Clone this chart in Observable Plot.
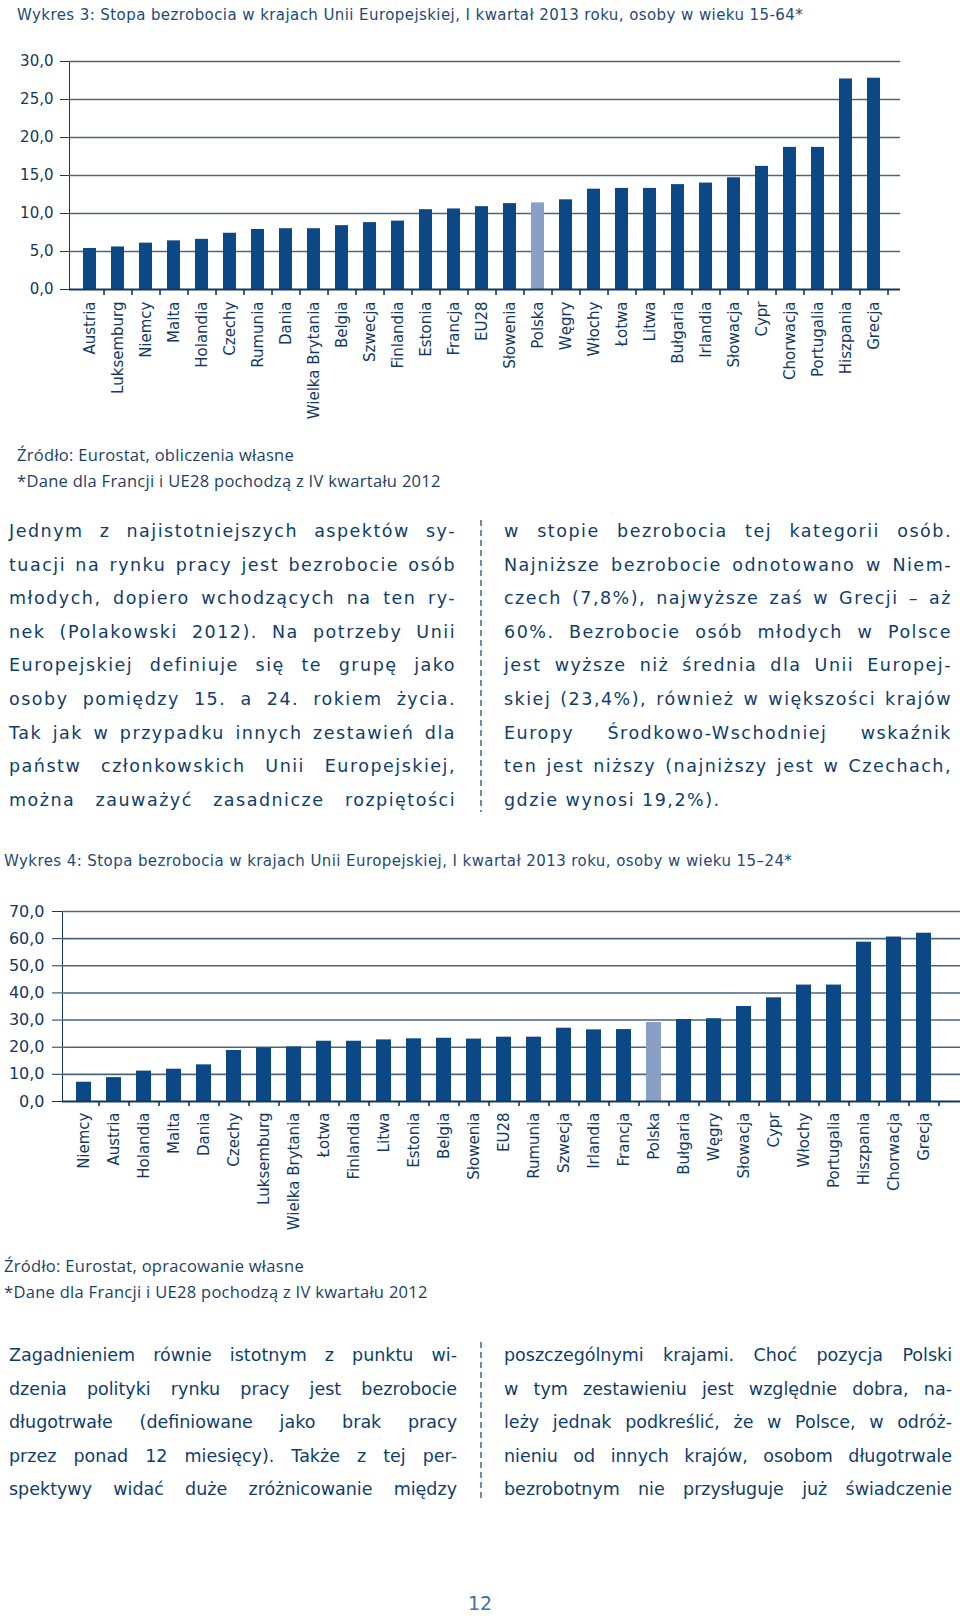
<!DOCTYPE html>
<html><head><meta charset="utf-8">
<script src="https://cdn.jsdelivr.net/npm/d3@7"></script>
<script src="https://cdn.jsdelivr.net/npm/@observablehq/plot@0.6"></script>
<style>
html,body{margin:0;padding:0;background:#fff}
body{width:960px;height:1621px;position:relative;overflow:hidden;font-family:"DejaVu Sans",sans-serif;color:#0f3d6b}
.abs{position:absolute}
.title{font-size:15px;line-height:20px;color:#1d4a78;white-space:nowrap;letter-spacing:0.42px}
.src{font-size:16.5px;line-height:20px;color:#1b3f66;white-space:nowrap;font-family:"Open Sans",sans-serif;letter-spacing:0.3px}
.col{position:absolute}
.line{white-space:nowrap;text-align:justify;text-align-last:justify}
.top .line{font-size:17.5px;height:33.6px;line-height:33.6px;letter-spacing:1.5px}
.bot .line{font-size:17.5px;height:33.5px;line-height:33.5px;letter-spacing:0px}
.line.last{text-align-last:left}
.sep{position:absolute;width:1.5px;background:repeating-linear-gradient(to bottom,#6f8aa6 0 6px,transparent 6px 10px)}
.chart{position:absolute;left:0}
</style>
</head><body>
<div id="c1" class="chart" style="top:0"></div>
<div id="c2" class="chart" style="top:880px"></div>
<div class="abs title" style="left:17px;top:5px">Wykres 3: Stopa bezrobocia w krajach Unii Europejskiej, I kwartał 2013 roku, osoby w wieku 15-64*</div>
<div class="abs src" style="left:17px;top:445px">Źródło: Eurostat, obliczenia własne</div>
<div class="abs src" style="left:17px;top:471px">*Dane dla Francji i UE28 pochodzą z IV kwartału 2012</div>
<div class="abs title" style="left:4px;top:851px">Wykres 4: Stopa bezrobocia w krajach Unii Europejskiej, I kwartał 2013 roku, osoby w wieku 15–24*</div>
<div class="abs src" style="left:4px;top:1256px">Źródło: Eurostat, opracowanie własne</div>
<div class="abs src" style="left:4px;top:1282px">*Dane dla Francji i UE28 pochodzą z IV kwartału 2012</div>
<div id="tl" class="col top" style="left:9px;top:515px;width:447px"></div>
<div id="tr" class="col top" style="left:504px;top:515px;width:448px"></div>
<div class="sep" style="left:480px;top:520px;height:292px"></div>
<div id="bl" class="col bot" style="left:9px;top:1339px;width:448px"></div>
<div id="br" class="col bot" style="left:504px;top:1339px;width:448px"></div>
<div class="sep" style="left:480px;top:1342px;height:158px"></div>
<div class="abs" style="left:0;width:960px;top:1592px;text-align:center;font-size:19px;color:#3f70a3">12</div>
<script>
// ---- Data: Wykres 3 (15-64) ----
const countries1 = ["Austria","Luksemburg","Niemcy","Malta","Holandia","Czechy","Rumunia","Dania","Wielka Brytania","Belgia","Szwecja","Finlandia","Estonia","Francja","EU28","Słowenia","Polska","Węgry","Włochy","Łotwa","Litwa","Bułgaria","Irlandia","Słowacja","Cypr","Chorwacja","Portugalia","Hiszpania","Grecja"];
const values1 = [5.4,5.6,6.1,6.4,6.6,7.4,7.9,8.0,8.0,8.4,8.8,9.0,10.5,10.6,10.9,11.3,11.4,11.8,13.2,13.3,13.3,13.8,14.0,14.7,16.2,18.7,18.7,27.7,27.8];
const yTicks1 = [0,5,10,15,20,25,30];

// ---- Data: Wykres 4 (15-24) ----
const countries2 = ["Niemcy","Austria","Holandia","Malta","Dania","Czechy","Luksemburg","Wielka Brytania","Łotwa","Finlandia","Litwa","Estonia","Belgia","Słowenia","EU28","Rumunia","Szwecja","Irlandia","Francja","Polska","Bułgaria","Węgry","Słowacja","Cypr","Włochy","Portugalia","Hiszpania","Chorwacja","Grecja"];
const values2 = [7.1,8.8,11.2,11.9,13.5,18.8,19.7,20.1,22.2,22.2,22.7,23.1,23.3,23.0,23.7,23.7,27.0,26.4,26.5,29.1,30.2,30.5,35.0,38.2,42.9,42.9,58.7,60.6,62.0];
const yTicks2 = [0,10,20,30,40,50,60,70];

const highlight = "Polska";

// ---- Text ----
const textTL = ["Jednym z najistotniejszych aspektów sy-","tuacji na rynku pracy jest bezrobocie osób","młodych, dopiero wchodzących na ten ry-","nek (Polakowski 2012). Na potrzeby Unii","Europejskiej definiuje się te grupę jako","osoby pomiędzy 15. a 24. rokiem życia.","Tak jak w przypadku innych zestawień dla","państw członkowskich Unii Europejskiej,","można zauważyć zasadnicze rozpiętości"];
const textTR = ["w stopie bezrobocia tej kategorii osób.","Najniższe bezrobocie odnotowano w Niem-","czech (7,8%), najwyższe zaś w Grecji – aż","60%. Bezrobocie osób młodych w Polsce","jest wyższe niż średnia dla Unii Europej-","skiej (23,4%), również w większości krajów","Europy Środkowo-Wschodniej wskaźnik","ten jest niższy (najniższy jest w Czechach,","gdzie wynosi 19,2%)."];
const textBL = ["Zagadnieniem równie istotnym z punktu wi-","dzenia polityki rynku pracy jest bezrobocie","długotrwałe (definiowane jako brak pracy","przez ponad 12 miesięcy). Także z tej per-","spektywy widać duże zróżnicowanie między"];
const textBR = ["poszczególnymi krajami. Choć pozycja Polski","w tym zestawieniu jest względnie dobra, na-","leży jednak podkreślić, że w Polsce, w odróż-","nieniu od innych krajów, osobom długotrwale","bezrobotnym nie przysługuje już świadczenie"];

const DARK = "#0b4885", LIGHT = "#8a9fc6", NAVY = "#12385f", GRID = "#4a667e";
const fmt = d => d3.format(".1f")(d).replace(".", ",");

function chart({countries, values, yTicks, height, marginTop, marginBottom, marginLeft, marginRight, range, padding, tickSize, tickPadding, xTickSize, labelPad, fontSize}) {
  const data = countries.map((c, i) => ({country: c, value: values[i]}));
  const n = countries.length;
  const step = (range[1] - range[0]) / (n - padding + 2 * padding);
  return Plot.plot({
    width: 960, height, marginTop, marginBottom, marginLeft, marginRight,
    style: {fontFamily: "DejaVu Sans, sans-serif", fontSize: fontSize + "px", color: NAVY, background: "transparent", overflow: "visible"},
    x: {domain: countries, range, padding, label: null},
    y: {domain: [yTicks[0], yTicks[yTicks.length - 1]], ticks: yTicks, tickFormat: fmt, tickSize, tickPadding, line: true, label: null},
    marks: [
      Plot.ruleY(yTicks.slice(1), {stroke: GRID, strokeWidth: 1.6}),
      Plot.barY(data, {x: "country", y: "value", fill: d => d.country === highlight ? LIGHT : DARK}),
      Plot.ruleY([0], {stroke: NAVY, strokeWidth: 2.2}),
      Plot.axisX({tickSize: 0, tickPadding: labelPad, tickRotate: -90, fontSize: 15, label: null, fill: NAVY}),
      Plot.axisX({tickSize: xTickSize, fill: "none", dx: step / 2, label: null, stroke: NAVY, strokeWidth: 1.6})
    ]
  });
}

document.getElementById("c1").append(chart({
  countries: countries1, values: values1, yTicks: yTicks1,
  height: 440, marginTop: 61, marginBottom: 151, marginLeft: 69, marginRight: 60,
  range: [66.85, 895.4], padding: 0.537, tickSize: 9, tickPadding: 7, xTickSize: 6, labelPad: 12, fontSize: 15
}));
document.getElementById("c2").append(chart({
  countries: countries2, values: values2, yTicks: yTicks2,
  height: 380, marginTop: 31, marginBottom: 159, marginLeft: 62, marginRight: 0,
  range: [60, 947], padding: 0.5, tickSize: 10, tickPadding: 8, xTickSize: 5, labelPad: 11, fontSize: 16
}));

function fill(id, lines, lastIsEnd) {
  const col = document.getElementById(id);
  lines.forEach((t, i) => {
    const d = document.createElement("div");
    d.className = "line" + (lastIsEnd && i === lines.length - 1 ? " last" : "");
    const s = document.createElement("span");
    s.textContent = t;
    d.append(s);
    col.append(d);
    // shrink letter-spacing if natural width exceeds column width
    d.style.textAlignLast = "left";
    let ls = parseFloat(getComputedStyle(d).letterSpacing) || 0;
    let guard = 0;
    while (s.getBoundingClientRect().width > col.clientWidth - 2 && guard < 40) {
      ls -= 0.1; d.style.letterSpacing = ls + "px"; guard++;
    }
    d.style.textAlignLast = "";
  });
}
fill("tl", textTL, false);
fill("tr", textTR, true);
fill("bl", textBL, false);
fill("br", textBR, false);
</script>
</body></html>
